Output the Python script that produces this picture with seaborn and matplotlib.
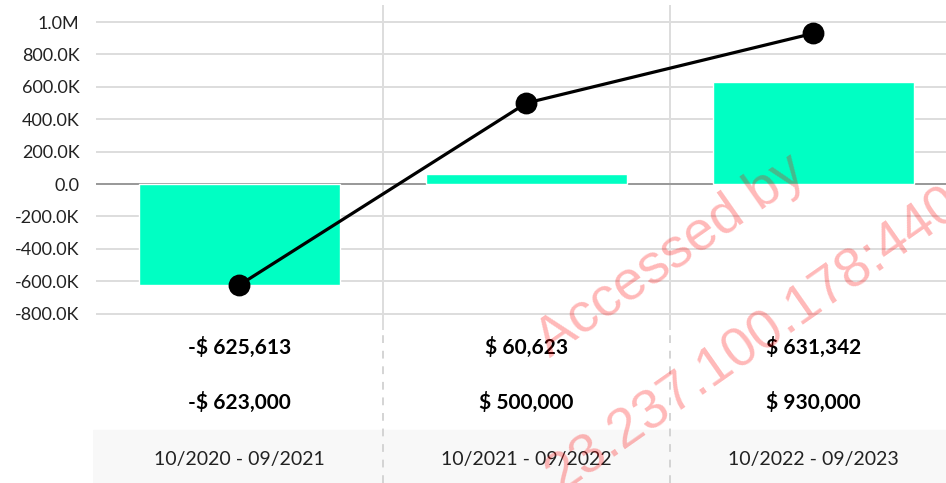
import matplotlib
matplotlib.use("Agg")
import matplotlib.pyplot as plt
import seaborn as sns
from matplotlib.ticker import FuncFormatter

# data
periods = ["10/2020 - 09/2021", "10/2021 - 09/2022", "10/2022 - 09/2023"]
actual = [-625613, 60623, 631342]
target = [-623000, 500000, 930000]
y_ticks = [-800000, -600000, -400000, -200000, 0, 200000, 400000, 600000, 800000, 1000000]

BAR_COLOR = "#00FFC3"
W, H = 946, 483


def money(v):
    return f"-$ {abs(v):,}" if v < 0 else f"$ {v:,}"


def short(v, pos=None):
    if v == 0:
        return "0.0"
    if abs(v) >= 1e6:
        return f"{v / 1e6:.1f}M"
    return f"{v / 1e3:.1f}K"


sns.set_theme(style="white")
plt.rcParams["font.family"] = ["Lato", "DejaVu Sans"]

fig = plt.figure(figsize=(W / 100, H / 100), dpi=100)

# main chart area
ax = fig.add_axes([96 / W, 153 / H, 850 / W, 325 / H])
sns.barplot(x=periods, y=actual, color=BAR_COLOR, saturation=1, width=0.7, ax=ax, zorder=2)
sns.pointplot(x=periods, y=target, color="black", markers="o", markersize=14,
              linewidth=2.3, ax=ax, zorder=4)

ax.set_xlim(-0.5, 2.462)
ax.set_ylim(-901000, 1105000)
ax.set_yticks(y_ticks)
ax.yaxis.set_major_formatter(FuncFormatter(short))
ax.tick_params(axis="y", length=0, pad=12, labelsize=13, labelcolor="#222222")
ax.set_xticks([])
ax.set_xlabel("")
ax.set_ylabel("")
ax.grid(axis="y", color="#dddddd", linewidth=1.4, zorder=0)
ax.axhline(0, color="#999999", linewidth=1.4, zorder=1)
for xb in [0.5, 1.5]:
    ax.axvline(xb, color="#dddddd", linewidth=1.4, zorder=0)
for s in ax.spines.values():
    s.set_visible(False)

# table under the chart
tax = fig.add_axes([93 / W, 0, 853 / W, 153 / H])
tax.set_xlim(-0.5 - 3 / 287, 2.462)
tax.set_ylim(153, 0)
tax.axis("off")
tax.axhspan(100, 153, color="#f8f8f8", zorder=0)
for xb in [0.5, 1.5]:
    tax.axvline(xb, color="#d4d4d4", linewidth=1.4, linestyle=(0, (4, 4)), zorder=1)
for i, p in enumerate(periods):
    tax.text(i, 17, money(actual[i]), ha="center", va="center",
             fontsize=15, fontweight="bold", color="black")
    tax.text(i, 72, money(target[i]), ha="center", va="center",
             fontsize=15, fontweight="bold", color="black")
    tax.text(i, 130, p, ha="center", va="center", fontsize=14, color="#222222")

# watermark
wm = dict(fontsize=40, color="red", alpha=0.28, rotation=35, rotation_mode="anchor",
          ha="left", va="baseline", family="Liberation Sans")
fig.text(550 / W, 1 - 358 / H, "Accessed by", **wm)
fig.text(560 / W, 1 - 494 / H, "23.237.100.178:4403", **wm)

fig.savefig("out.png", dpi=100)
